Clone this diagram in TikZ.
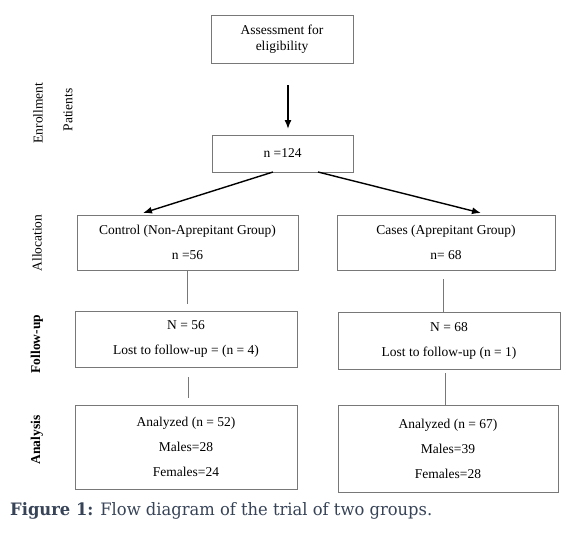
\documentclass[tikz,border=0pt]{standalone}
\usepackage{fontspec}
\setmainfont{Liberation Serif}
\newfontfamily\capfont{DejaVu Serif}
\usetikzlibrary{arrows.meta}
\definecolor{boxgray}{RGB}{120,120,120}
\definecolor{capcol}{RGB}{55,68,88}
\begin{document}
\begin{tikzpicture}[x=1pt,y=-1pt,
  fbox/.style={draw=boxgray,line width=0.9pt,inner sep=0pt,align=center,
    font=\fontsize{13.5}{25}\selectfont},
  sidelab/.style={rotate=90,font=\fontsize{13.5}{16}\selectfont},
  sidebold/.style={rotate=90,font=\fontsize{13.5}{16}\selectfont\bfseries},
  conn/.style={draw=boxgray,line width=0.9pt},
  arr/.style={draw=black,line width=1.4pt,-{Latex[length=9pt,width=7pt]}}]
\useasboundingbox (0,0) rectangle (580,536);
\fill[white] (0,0) rectangle (580,536);
% boxes
\node[fbox,font=\fontsize{13.5}{16}\selectfont,minimum width=142pt,minimum height=48pt] (assess) at (282,39) {Assessment for\\eligibility};
\node[fbox,minimum width=141pt,minimum height=37pt] (n124) at (282.5,153.5) {n =124};
\node[fbox,minimum width=221pt,minimum height=55pt] (ctrl) at (187.5,242.5) {Control (Non-Aprepitant Group)\\n =56};
\node[fbox,minimum width=218pt,minimum height=55pt] (cases) at (446,242.5) {Cases (Aprepitant Group)\\n= 68};
\node[fbox,minimum width=222pt,minimum height=56pt] (fu1) at (186,339) {N = 56\\Lost to follow-up = (n = 4)};
\node[fbox,minimum width=222pt,minimum height=57pt] (fu2) at (449,340.5) {N = 68\\Lost to follow-up (n = 1)};
\node[fbox,minimum width=222pt,minimum height=84pt] (an1) at (186,447) {Analyzed (n = 52)\\Males=28\\Females=24};
\node[fbox,minimum width=220pt,minimum height=87pt] (an2) at (448,448.5) {Analyzed (n = 67)\\Males=39\\Females=28};
% side labels
\node[sidelab] (enr) at (38,113) {Enrollment};
\node[sidelab] (pat) at (68,110) {Patients};
\node[sidelab] (alloc) at (37,243) {Allocation};
\node[sidebold] (follow) at (37,344) {Follow-up};
\node[sidebold] (anal) at (37,440) {Analysis};
% connectors
\coordinate (a0) at (288,85);
\coordinate (a1) at (288,129);
\draw[arr] (a0) -- (a1);
\coordinate (d1s) at (273,172);
\coordinate (d1e) at (143,213);
\coordinate (d2s) at (318,172);
\coordinate (d2e) at (481,213);
\draw[arr] (d1s) -- (d1e);
\draw[arr] (d2s) -- (d2e);
\coordinate (l1a) at (187,270);
\coordinate (l1b) at (187,304);
\coordinate (l2a) at (188,377);
\coordinate (l2b) at (188,398);
\coordinate (r1a) at (443,279);
\coordinate (r1b) at (443,312);
\coordinate (r2a) at (445,373);
\coordinate (r2b) at (445,405);
\draw[conn] (l1a) -- (l1b);
\draw[conn] (l2a) -- (l2b);
\draw[conn] (r1a) -- (r1b);
\draw[conn] (r2a) -- (r2b);
% caption
\node[anchor=base west,text=capcol,inner sep=0pt] (cap) at (10,515)
  {\resizebox{422pt}{13pt}{\capfont\textbf{Figure 1:} Flow diagram of the trial of two groups.}};
\end{tikzpicture}
\end{document}
